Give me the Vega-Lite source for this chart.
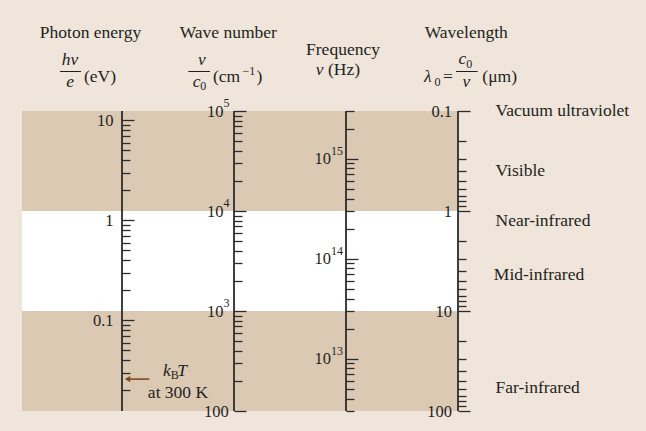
{
  "$schema": "https://vega.github.io/schema/vega-lite/v6.json",
  "width": 436,
  "height": 300,
  "autosize": {"type": "none"},
  "padding": {"left": 22, "top": 111, "right": 188, "bottom": 20},
  "background": "#efe5da",
  "config": {"view": {"stroke": null}},
  "datasets": {
    "bands": [
      {"from": 10000, "to": 100000, "shade": "shaded"},
      {"from": 1000, "to": 10000, "shade": "clear"},
      {"from": 100, "to": 1000, "shade": "shaded"}
    ],
    "axes": [
      {"scale": "photon", "c": 0, "lo": 0.0123984, "hi": 12.3984},
      {"scale": "wavenumber", "c": 1, "lo": 100, "hi": 100000},
      {"scale": "frequency", "c": 2, "lo": 3e12, "hi": 3e15},
      {"scale": "wavelength", "c": 3, "lo": 0.1, "hi": 100}
    ],
    "exponents": [
      {"scale": "wavenumber", "c": 1, "v": 1000, "exp": "3"},
      {"scale": "wavenumber", "c": 1, "v": 10000, "exp": "4"},
      {"scale": "wavenumber", "c": 1, "v": 100000, "exp": "5"},
      {"scale": "frequency", "c": 2, "v": 1e13, "exp": "13"},
      {"scale": "frequency", "c": 2, "v": 1e14, "exp": "14"},
      {"scale": "frequency", "c": 2, "v": 1e15, "exp": "15"}
    ],
    "labels": [
      {"t": "Photon energy", "role": "heading", "c": -0.28125, "hy": 72.7},
      {"t": "Wave number", "role": "heading", "c": 0.9491, "hy": 72.7},
      {"t": "Frequency", "role": "heading", "c": 1.9732, "hy": 56},
      {"t": "Wavelength", "role": "heading", "c": 3.0741, "hy": 72.7},
      {"t": "at 300 K", "role": "heading", "c": 0.5, "hy": -286.5},
      {"t": "hν", "role": "var", "c": -0.464, "hy": 46},
      {"t": "e", "role": "var", "c": -0.464, "hy": 24.5},
      {"t": "ν", "role": "var", "c": 0.7143, "hy": 46},
      {"t": "ν", "role": "var", "c": 3.0759, "hy": 24.5},
      {"t": "(eV)", "role": "unit", "c": -0.3393, "hy": 29},
      {"t": "(cm", "role": "unit", "c": 0.8125, "hy": 29},
      {"t": ")", "role": "unit", "c": 1.2009, "hy": 29},
      {"t": "(Hz)", "role": "unit", "c": 1.8393, "hy": 36},
      {"t": "=", "role": "unit", "c": 2.8661, "hy": 29},
      {"t": "(μm)", "role": "unit", "c": 3.217, "hy": 29},
      {"t": "c", "role": "varL", "c": 0.6313, "hy": 24.5},
      {"t": "ν", "role": "varL", "c": 1.7295, "hy": 36},
      {"t": "λ", "role": "varL", "c": 2.6964, "hy": 29},
      {"t": "c", "role": "varL", "c": 3.0045, "hy": 47.5},
      {"t": "k", "role": "varL", "c": 0.3661, "hy": -265},
      {"t": "T", "role": "varL", "c": 0.4938, "hy": -265},
      {"t": "0", "role": "index", "c": 0.699, "hy": 21},
      {"t": "−1", "role": "index", "c": 1.0759, "hy": 36},
      {"t": "0", "role": "index", "c": 2.7902, "hy": 25},
      {"t": "0", "role": "index", "c": 3.0741, "hy": 43.5},
      {"t": "B", "role": "index", "c": 0.4348, "hy": -268}
    ],
    "fractions": [
      {"quantity": "photon energy", "c1": -0.5536, "c2": -0.3661, "hy": 39.5},
      {"quantity": "wave number", "c1": 0.592, "c2": 0.7857, "hy": 39.5},
      {"quantity": "wavelength", "c1": 2.9821, "c2": 3.1759, "hy": 39.5}
    ],
    "arrow": [
      {"label": "kT at 300 K", "e": 0.02585, "from": 0.2438, "to": 0.0357, "tip": 0.049}
    ],
    "regions": [
      {"name": "Vacuum ultraviolet", "c": 3.335, "lambda": 0.1},
      {"name": "Visible", "c": 3.335, "lambda": 0.4},
      {"name": "Near-infrared", "c": 3.335, "lambda": 1.26},
      {"name": "Mid-infrared", "c": 3.32, "lambda": 4.4},
      {"name": "Far-infrared", "c": 3.335, "lambda": 59}
    ]
  },
  "layer": [
    {
      "data": {"name": "bands"},
      "mark": {"type": "rect"},
      "encoding": {
        "y": {"field": "from", "type": "quantitative", "scale": {"type": "log", "domain": [100, 100000]}, "axis": null},
        "y2": {"field": "to"},
        "color": {"field": "shade", "type": "nominal", "scale": {"domain": ["shaded", "clear"], "range": ["#dcc9b4", "#ffffff"]}, "legend": null}
      }
    },
    {
      "data": {"name": "axes"},
      "transform": [{"filter": "datum.scale == 'photon'"}],
      "mark": {"type": "rule", "color": "#2b2b2b", "strokeWidth": 1.8},
      "encoding": {
        "x": {"field": "c", "type": "quantitative", "scale": {"domain": [-0.892857142857, 3]}, "axis": null},
        "y": {"field": "lo", "type": "quantitative", "scale": {"type": "log", "domain": [0.0123984, 12.3984]},
          "axis": {"orient": "right", "offset": -336, "title": null, "domain": false, "grid": false, "zindex": 1,
            "values": [0.02,0.03,0.04,0.05,0.06,0.07,0.08,0.09,0.1,0.2,0.3,0.4,0.5,0.6,0.7,0.8,0.9,1,2,3,4,5,6,7,8,9,10],
            "labelExpr": "datum.value == 10 ? '10' : datum.value == 1 ? '1' : datum.value == 0.1 ? '0.1' : ''",
            "tickSize": {"condition": {"test": "datum.value == 0.1 || datum.value == 1 || datum.value == 10", "value": 12}, "value": 8},
            "tickColor": "#2b2b2b", "tickWidth": 1.3,
            "labelPadding": -21, "labelAlign": "right", "labelBaseline": "middle",
            "labelFont": "Liberation Serif", "labelFontSize": 16.5, "labelColor": "#231f20",
            "labelOverlap": false, "labelFlush": false, "labelBound": false}},
        "y2": {"field": "hi"}
      }
    },
    {
      "data": {"name": "axes"},
      "transform": [{"filter": "datum.scale == 'wavenumber'"}],
      "mark": {"type": "rule", "color": "#2b2b2b", "strokeWidth": 1.8},
      "encoding": {
        "x": {"field": "c", "type": "quantitative", "scale": {"domain": [-0.892857142857, 3]}, "axis": null},
        "y": {"field": "lo", "type": "quantitative", "scale": {"type": "log", "domain": [100, 100000]},
          "axis": {"orient": "right", "offset": -224, "title": null, "domain": false, "grid": false, "zindex": 1,
            "values": [100,200,300,400,500,600,700,800,900,1000,2000,3000,4000,5000,6000,7000,8000,9000,10000,20000,30000,40000,50000,60000,70000,80000,90000,100000],
            "labelExpr": "datum.value == 100 ? '100' : (datum.value == 1000 || datum.value == 10000 || datum.value == 100000) ? '10' : ''",
            "tickSize": {"condition": {"test": "datum.value == 100 || datum.value == 1000 || datum.value == 10000 || datum.value == 100000", "value": 12}, "value": 8},
            "tickColor": "#2b2b2b", "tickWidth": 1.3,
            "labelPadding": {"condition": {"test": "datum.value == 100", "value": -17.7}, "value": -23},
            "labelAlign": "right", "labelBaseline": "middle",
            "labelFont": "Liberation Serif", "labelFontSize": 16.5, "labelColor": "#231f20",
            "labelOverlap": false, "labelFlush": false, "labelBound": false}},
        "y2": {"field": "hi"}
      }
    },
    {
      "data": {"name": "axes"},
      "transform": [{"filter": "datum.scale == 'frequency'"}],
      "mark": {"type": "rule", "color": "#2b2b2b", "strokeWidth": 1.8},
      "encoding": {
        "x": {"field": "c", "type": "quantitative", "scale": {"domain": [-0.892857142857, 3]}, "axis": null},
        "y": {"field": "lo", "type": "quantitative", "scale": {"type": "log", "domain": [3e12, 3e15]},
          "axis": {"orient": "right", "offset": -112, "title": null, "domain": false, "grid": false, "zindex": 1,
            "values": [3e12,4e12,5e12,6e12,7e12,8e12,9e12,1e13,2e13,3e13,4e13,5e13,6e13,7e13,8e13,9e13,1e14,2e14,3e14,4e14,5e14,6e14,7e14,8e14,9e14,1e15,2e15,3e15],
            "labelExpr": "(datum.value == 1e13 || datum.value == 1e14 || datum.value == 1e15) ? '10' : ''",
            "tickSize": {"condition": {"test": "datum.value == 1e13 || datum.value == 1e14 || datum.value == 1e15", "value": 12}, "value": 8},
            "tickColor": "#2b2b2b", "tickWidth": 1.3,
            "labelPadding": -27.5, "labelAlign": "right", "labelBaseline": "middle",
            "labelFont": "Liberation Serif", "labelFontSize": 16.5, "labelColor": "#231f20",
            "labelOverlap": false, "labelFlush": false, "labelBound": false}},
        "y2": {"field": "hi"}
      }
    },
    {
      "data": {"name": "axes"},
      "transform": [{"filter": "datum.scale == 'wavelength'"}],
      "mark": {"type": "rule", "color": "#2b2b2b", "strokeWidth": 1.8},
      "encoding": {
        "x": {"field": "c", "type": "quantitative", "scale": {"domain": [-0.892857142857, 3]}, "axis": null},
        "y": {"field": "lo", "type": "quantitative", "scale": {"type": "log", "domain": [0.1, 100], "reverse": true},
          "axis": {"orient": "right", "offset": 0, "title": null, "domain": false, "grid": false, "zindex": 1,
            "values": [0.1,0.2,0.3,0.4,0.5,0.6,0.7,0.8,0.9,1,2,3,4,5,6,7,8,9,10,20,30,40,50,60,70,80,90,100],
            "labelExpr": "datum.value == 0.1 ? '0.1' : datum.value == 1 ? '1' : datum.value == 10 ? '10' : datum.value == 100 ? '100' : ''",
            "tickSize": {"condition": {"test": "datum.value == 0.1 || datum.value == 1 || datum.value == 10 || datum.value == 100", "value": 12}, "value": 8},
            "tickColor": "#2b2b2b", "tickWidth": 1.3,
            "labelPadding": -18.5, "labelAlign": "right", "labelBaseline": "middle",
            "labelFont": "Liberation Serif", "labelFontSize": 16.5, "labelColor": "#231f20",
            "labelOverlap": false, "labelFlush": false, "labelBound": false}},
        "y2": {"field": "hi"}
      }
    },
    {
      "data": {"name": "exponents"},
      "transform": [{"filter": "datum.scale == 'wavenumber'"}],
      "mark": {"type": "text", "align": "left", "baseline": "alphabetic", "dx": -10.5, "dy": -4, "font": "Liberation Serif", "fontSize": 12, "color": "#231f20"},
      "encoding": {
        "x": {"field": "c", "type": "quantitative", "scale": {"domain": [-0.892857142857, 3]}, "axis": null},
        "y": {"field": "v", "type": "quantitative", "scale": {"type": "log", "domain": [100, 100000]}, "axis": null},
        "text": {"field": "exp"}
      }
    },
    {
      "data": {"name": "exponents"},
      "transform": [{"filter": "datum.scale == 'frequency'"}],
      "mark": {"type": "text", "align": "left", "baseline": "alphabetic", "dx": -15, "dy": -4, "font": "Liberation Serif", "fontSize": 12, "color": "#231f20"},
      "encoding": {
        "x": {"field": "c", "type": "quantitative", "scale": {"domain": [-0.892857142857, 3]}, "axis": null},
        "y": {"field": "v", "type": "quantitative", "scale": {"type": "log", "domain": [3e12, 3e15]}, "axis": null},
        "text": {"field": "exp"}
      }
    },
    {
      "data": {"name": "labels"},
      "transform": [{"filter": "datum.role == 'heading'"}],
      "mark": {"type": "text", "align": "center", "baseline": "alphabetic", "font": "Liberation Serif", "fontSize": 17.5, "color": "#231f20"},
      "encoding": {
        "x": {"field": "c", "type": "quantitative", "scale": {"domain": [-0.892857142857, 3]}, "axis": null},
        "y": {"field": "hy", "type": "quantitative", "scale": {"domain": [0, 100], "range": [0, -100]}, "axis": null},
        "text": {"field": "t"}
      }
    },
    {
      "data": {"name": "labels"},
      "transform": [{"filter": "datum.role == 'var'"}],
      "mark": {"type": "text", "align": "center", "baseline": "alphabetic", "font": "Liberation Serif", "fontStyle": "italic", "fontSize": 17.5, "color": "#231f20"},
      "encoding": {
        "x": {"field": "c", "type": "quantitative", "scale": {"domain": [-0.892857142857, 3]}, "axis": null},
        "y": {"field": "hy", "type": "quantitative", "scale": {"domain": [0, 100], "range": [0, -100]}, "axis": null},
        "text": {"field": "t"}
      }
    },
    {
      "data": {"name": "labels"},
      "transform": [{"filter": "datum.role == 'unit'"}],
      "mark": {"type": "text", "align": "left", "baseline": "alphabetic", "font": "Liberation Serif", "fontSize": 17.5, "color": "#231f20"},
      "encoding": {
        "x": {"field": "c", "type": "quantitative", "scale": {"domain": [-0.892857142857, 3]}, "axis": null},
        "y": {"field": "hy", "type": "quantitative", "scale": {"domain": [0, 100], "range": [0, -100]}, "axis": null},
        "text": {"field": "t"}
      }
    },
    {
      "data": {"name": "labels"},
      "transform": [{"filter": "datum.role == 'varL'"}],
      "mark": {"type": "text", "align": "left", "baseline": "alphabetic", "font": "Liberation Serif", "fontStyle": "italic", "fontSize": 17.5, "color": "#231f20"},
      "encoding": {
        "x": {"field": "c", "type": "quantitative", "scale": {"domain": [-0.892857142857, 3]}, "axis": null},
        "y": {"field": "hy", "type": "quantitative", "scale": {"domain": [0, 100], "range": [0, -100]}, "axis": null},
        "text": {"field": "t"}
      }
    },
    {
      "data": {"name": "labels"},
      "transform": [{"filter": "datum.role == 'index'"}],
      "mark": {"type": "text", "align": "left", "baseline": "alphabetic", "font": "Liberation Serif", "fontSize": 12, "color": "#231f20"},
      "encoding": {
        "x": {"field": "c", "type": "quantitative", "scale": {"domain": [-0.892857142857, 3]}, "axis": null},
        "y": {"field": "hy", "type": "quantitative", "scale": {"domain": [0, 100], "range": [0, -100]}, "axis": null},
        "text": {"field": "t"}
      }
    },
    {
      "data": {"name": "fractions"},
      "mark": {"type": "rule", "color": "#231f20", "strokeWidth": 1},
      "encoding": {
        "x": {"field": "c1", "type": "quantitative", "scale": {"domain": [-0.892857142857, 3]}, "axis": null},
        "x2": {"field": "c2"},
        "y": {"field": "hy", "type": "quantitative", "scale": {"domain": [0, 100], "range": [0, -100]}, "axis": null}
      }
    },
    {
      "data": {"name": "arrow"},
      "mark": {"type": "rule", "color": "#7d4b1f", "strokeWidth": 1.6},
      "encoding": {
        "x": {"field": "from", "type": "quantitative", "scale": {"domain": [-0.892857142857, 3]}, "axis": null},
        "x2": {"field": "to"},
        "y": {"field": "e", "type": "quantitative", "scale": {"type": "log", "domain": [0.0123984, 12.3984]}, "axis": null}
      }
    },
    {
      "data": {"name": "arrow"},
      "mark": {"type": "point", "shape": "triangle-left", "filled": true, "color": "#7d4b1f", "size": 40, "opacity": 1},
      "encoding": {
        "x": {"field": "tip", "type": "quantitative", "scale": {"domain": [-0.892857142857, 3]}, "axis": null},
        "y": {"field": "e", "type": "quantitative", "scale": {"type": "log", "domain": [0.0123984, 12.3984]}, "axis": null}
      }
    },
    {
      "data": {"name": "regions"},
      "mark": {"type": "text", "align": "left", "baseline": "middle", "font": "Liberation Serif", "fontSize": 17.5, "color": "#231f20"},
      "encoding": {
        "x": {"field": "c", "type": "quantitative", "scale": {"domain": [-0.892857142857, 3]}, "axis": null},
        "y": {"field": "lambda", "type": "quantitative", "scale": {"type": "log", "domain": [0.1, 100], "reverse": true}, "axis": null},
        "text": {"field": "name"}
      }
    }
  ],
  "resolve": {"scale": {"y": "independent"}, "axis": {"y": "independent"}}
}
